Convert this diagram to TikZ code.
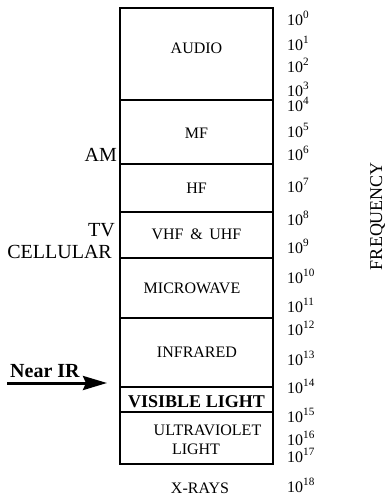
\documentclass[tikz,border=0pt]{standalone}
\usepackage{fontspec}
\setmainfont{Liberation Serif}
\usetikzlibrary{arrows.meta,positioning}
\tikzset{
  band/.style={rectangle,draw=black,line width=1.6pt,outer sep=0pt,inner sep=0pt,
    minimum width=153pt},
  bandtxt/.style={font=\fontsize{16}{18}\selectfont,inner sep=0pt,anchor=base},
  sidetxt/.style={font=\fontsize{20}{22}\selectfont,inner sep=0pt,anchor=base east},
  powtxt/.style={font=\fontsize{16}{18}\selectfont,inner sep=0pt,anchor=base west},
  irarrow/.style={-{Stealth[length=24pt,width=14pt,inset=3pt]},line width=3pt}
}

\begin{document}
\begin{tikzpicture}[x=1pt,y=-1pt]
  \useasboundingbox (0,0) rectangle (386,498);
  % spectrum bands
  \node[band,minimum height=92pt] (audio) at (196.5,54) {};
  \node[band,minimum height=64pt,below=0pt of audio] (mf)      {};
  \node[band,minimum height=48pt,below=0pt of mf]    (hf)      {};
  \node[band,minimum height=46pt,below=0pt of hf]    (vhf)     {};
  \node[band,minimum height=60pt,below=0pt of vhf]   (micro)   {};
  \node[band,minimum height=69pt,below=0pt of micro] (infra)   {};
  \node[band,minimum height=25pt,below=0pt of infra] (visible) {};
  \node[band,minimum height=52pt,below=0pt of visible] (uv)    {};

  \node[bandtxt] (audiotxt)   at (196.5,53)  {AUDIO};
  \node[bandtxt] (mftxt)      at (196.5,138) {MF};
  \node[bandtxt] (hftxt)      at (196.5,193) {HF};
  \node[bandtxt] (vhftxt)     at (196.5,239) {VHF \,\&\, UHF};
  \node[bandtxt] (microtxt)   at (192,293)   {MICROWAVE};
  \node[bandtxt] (infratxt)   at (197,357)   {INFRARED};
  \node[bandtxt,font=\fontsize{18}{20}\selectfont\bfseries] (visibletxt) at (196.5,407) {VISIBLE LIGHT};
  \node[bandtxt] (uvtxt)      at (207.5,435) {ULTRAVIOLET};
  \node[bandtxt] (lighttxt)   at (196,454)   {LIGHT};
  \node[bandtxt] (xraytxt)    at (200,493)   {X-RAYS};

  % services on the left
  \node[sidetxt] (am)       at (117,161) {AM};
  \node[sidetxt] (tv)       at (115,236) {TV};
  \node[sidetxt] (cellular) at (112,258) {CELLULAR};
  \node[sidetxt,anchor=base west,font=\fontsize{20}{22}\selectfont\bfseries] (nearir) at (10,377) {Near IR};
  \coordinate (irtail) at (7,383);
  \coordinate (irtip)  at (107,383);
  \draw[irarrow] (irtail) -- (irtip);

  % frequency scale
  \foreach \e/\b in {0/25,1/50,2/72,3/96,4/111,5/137,6/160,7/192,8/225,9/253,
                     10/283,11/312,12/335,13/365,14/393,15/422,16/445,17/462,18/492}
    \node[powtxt] (pow\e) at (287,\b) {10\textsuperscript{\e}};
  \node[font=\fontsize{18}{20}\selectfont,inner sep=0pt,rotate=90,anchor=base] (freq) at (382,216) {FREQUENCY};
\end{tikzpicture}
\end{document}
